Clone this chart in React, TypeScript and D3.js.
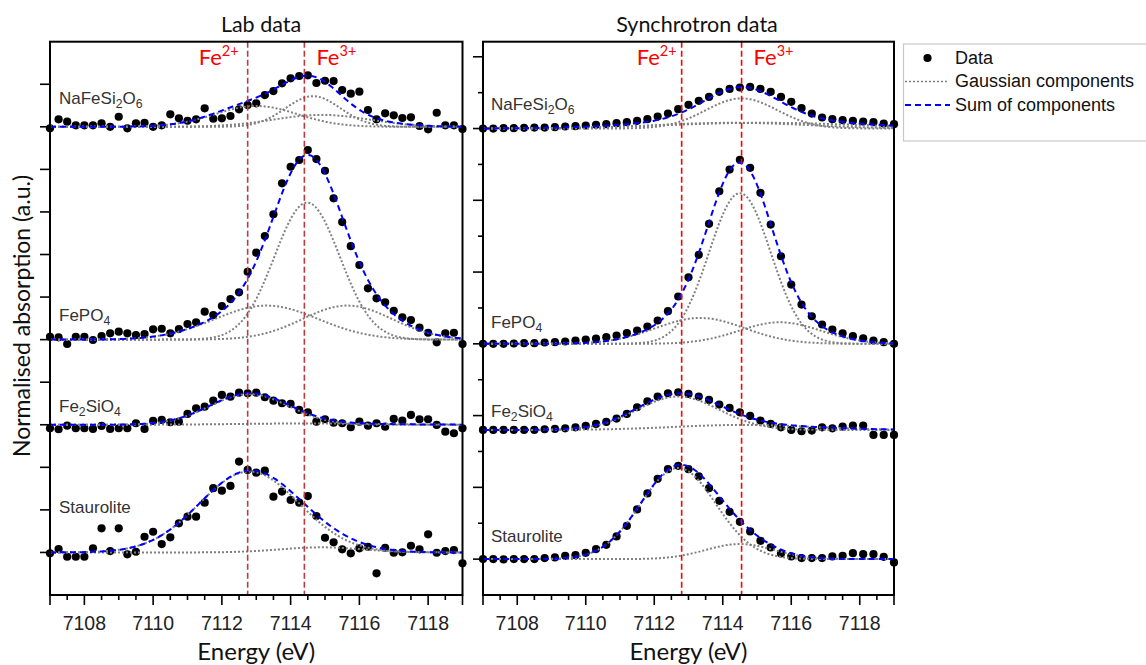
import React from "react";
import * as d3 from "d3";

// ---------------- data ----------------
const labEnergy = [
  7107, 7107.25, 7107.5, 7107.75, 7108, 7108.25, 7108.5, 7108.75, 7109, 7109.25,
  7109.5, 7109.75, 7110, 7110.25, 7110.5, 7110.75, 7111, 7111.25, 7111.5, 7111.75,
  7112, 7112.25, 7112.5, 7112.75, 7113, 7113.25, 7113.5, 7113.75, 7114, 7114.25,
  7114.5, 7114.75, 7115, 7115.25, 7115.5, 7115.75, 7116, 7116.25, 7116.5, 7116.75,
  7117, 7117.25, 7117.5, 7117.75, 7118, 7118.25, 7118.5, 7118.75, 7119,
];
const syncEnergy = [
  7107, 7107.3, 7107.6, 7107.9, 7108.2, 7108.5, 7108.8, 7109.1, 7109.4, 7109.7,
  7110, 7110.3, 7110.6, 7110.9, 7111.2, 7111.5, 7111.8, 7112.1, 7112.4, 7112.7,
  7113, 7113.3, 7113.6, 7113.9, 7114.2, 7114.5, 7114.8, 7115.1, 7115.4, 7115.7,
  7116, 7116.3, 7116.6, 7116.9, 7117.2, 7117.5, 7117.8, 7118.1, 7118.4, 7118.7, 7119,
];
const sampleNames = ["NaFeSi2O6", "FePO4", "Fe2SiO4", "Staurolite"];

// Lab data (normalised absorption, relative to each spectrum's baseline)
const labNaFeSi2O6 = [
  -0.035, 0.176, 0.12, 0.035, 0.035, 0.035, 0.082, 0.0, 0.237, -0.035,
  0.082, 0.096, 0.0, 0.035, 0.294, 0.2, 0.143, 0.176, 0.435, 0.19,
  0.2, 0.254, 0.41, 0.512, 0.552, 0.747, 0.841, 1.022, 1.14, 1.194,
  1.21, 1.03, 1.083, 1.076, 0.865, 0.778, 0.825, 0.395, 0.176, 0.317,
  0.27, 0.207, 0.223, 0.019, -0.059, 0.331, 0.035, 0.035, -0.052,
];
const labFePO4 = [
  0.068, 0.054, -0.103, 0.068, 0.068, -0.009, 0.085, 0.148, 0.186, 0.148,
  0.108, 0.132, 0.242, 0.256, 0.148, 0.249, 0.367, 0.406, 0.656, 0.578,
  0.789, 0.954, 1.111, 1.595, 2.042, 2.434, 2.946, 3.672, 4.062, 4.22,
  4.455, 4.243, 3.968, 3.32, 2.763, 2.195, 1.753, 1.205, 0.97, 0.876,
  0.679, 0.524, 0.46, 0.28, 0.162, -0.063, 0.148, 0.162, -0.103,
];
const labFe2SiO4 = [
  -0.082, -0.106, -0.021, -0.082, -0.082, -0.099, -0.028, -0.099, -0.082, -0.082,
  0.035, -0.099, 0.089, 0.113, 0.059, 0.073, 0.254, 0.387, 0.425, 0.566,
  0.7, 0.66, 0.754, 0.74, 0.754, 0.646, 0.566, 0.505, 0.489, 0.348,
  0.294, 0.073, 0.129, 0.049, 0.035, -0.059, 0.073, -0.021, 0.035, -0.045,
  0.136, 0.096, 0.23, 0.129, 0.129, -0.005, -0.162, -0.2, -0.082,
];
const labStaurolite = [
  -0.021, 0.08, -0.101, -0.101, -0.101, 0.096, 0.566, 0.033, 0.566, -0.045,
  0.016, 0.369, 0.486, 0.197, 0.355, 0.684, 0.841, 0.841, 1.17, 1.509,
  1.452, 1.563, 2.134, 1.939, 1.875, 1.922, 1.311, 1.429, 1.232, 1.17,
  1.325, 0.855, 0.345, 0.237, 0.073, -0.021, 0.096, 0.134, -0.491, 0.11,
  -0.007, 0.002, 0.157, 0.073, 0.425, -0.007, 0.033, 0.056, -0.256,
];

// Synchrotron data
const syncNaFeSi2O6 = [
  0, 0, 0.009, 0.009, 0.019, 0.028, 0.028, 0.037, 0.056, 0.065,
  0.084, 0.102, 0.121, 0.149, 0.176, 0.214, 0.26, 0.334, 0.418, 0.539,
  0.66, 0.771, 0.882, 1.022, 1.105, 1.143, 1.161, 1.105, 1.022, 0.882,
  0.743, 0.567, 0.418, 0.307, 0.26, 0.232, 0.214, 0.195, 0.176, 0.139, 0.121,
];
const syncFePO4 = [
  0, 0, 0, 0.009, 0.019, 0.019, 0.037, 0.046, 0.065, 0.093,
  0.121, 0.149, 0.186, 0.232, 0.297, 0.372, 0.483, 0.65, 0.91, 1.319,
  1.856, 2.48, 3.344, 4.252, 4.857, 5.127, 4.904, 4.207, 3.324, 2.441,
  1.652, 1.095, 0.769, 0.538, 0.398, 0.295, 0.212, 0.156, 0.092, 0.045, 0,
];
const syncFe2SiO4 = [
  0, 0, 0, 0, 0, 0, 0.019, 0.028, 0.046, 0.074,
  0.111, 0.167, 0.223, 0.316, 0.446, 0.632, 0.799, 0.929, 1.022, 1.049,
  1.003, 0.929, 0.836, 0.706, 0.613, 0.492, 0.39, 0.26, 0.167, 0.074,
  0, -0.037, -0.019, 0.074, 0.046, 0.093, 0.121, 0.121, -0.139, -0.139, -0.139,
];
const syncStaurolite = [
  0, 0, -0.009, 0, 0, 0, 0.028, 0.046, 0.093, 0.111,
  0.176, 0.279, 0.399, 0.632, 0.929, 1.384, 1.83, 2.239, 2.508, 2.601,
  2.508, 2.304, 1.978, 1.625, 1.319, 1.04, 0.771, 0.511, 0.325, 0.158,
  0.074, 0.028, 0.028, 0.028, 0.074, 0.093, 0.167, 0.139, 0.139, 0.065, -0.093,
];

// vertical offsets (baselines) of the stacked spectra
const labBaselines = [11, 6, 4, 1];
const syncBaselines = [13, 7, 4.6, 1];

// Gaussian components: [centre (eV), height, width sigma (eV)]
const labFitNaFeSi2O6 = [[7113.0, 0.49, 1.2], [7114.65, 0.72, 0.8], [7114.9, 0.28, 1.4]];
const labFitFePO4 = [[7114.48, 3.22, 0.95], [7113.3, 0.8, 1.5], [7115.65, 0.8, 1.3]];
const labFitFe2SiO4 = [[7112.8, 0.72, 1.15], [7114.5, 0.03, 2.0]];
const labFitStaurolite = [[7112.8, 1.9, 1.45], [7114.9, 0.12, 1.2]];
const syncFitNaFeSi2O6 = [[7114.55, 0.84, 1.05], [7114.3, 0.16, 2.2], [7115.2, 0.16, 2.8]];
const syncFitFePO4 = [[7114.5, 4.2, 0.9], [7113.34, 0.72, 1.3], [7115.67, 0.6, 1.2]];
const syncFitFe2SiO4 = [[7112.7, 0.93, 1.2], [7114.6, 0.14, 2.0]];
const syncFitStaurolite = [[7112.7, 2.54, 1.1], [7114.5, 0.42, 1.0]];

const xTickLabels = [7108, 7110, 7112, 7114, 7116, 7118];
const labFeLines = [7112.75, 7114.4];
const syncFeLines = [7112.8, 7114.55];

// ---------------- drawing ----------------
const W = 1146;
const H = 665;
const CAL = "Lato, 'Open Sans', sans-serif";
const ARIAL = "'Liberation Sans', Arial, sans-serif";

function gauss(e: number, p: number[]) {
  const d = e - p[0];
  return p[1] * Math.exp(-(d * d) / (2 * p[2] * p[2]));
}

function Formula({ name, x, y, size }: { name: string; x: number; y: number; size: number }) {
  const parts = name.split(/(\d+)/).filter((s) => s.length > 0);
  let shifted = false;
  return (
    <text x={x} y={y} fontFamily={ARIAL} fontSize={size} fill="#333">
      {parts.map((p, i) => {
        const isNum = /^\d+$/.test(p);
        const dy = isNum ? 4 : shifted ? -4 : 0;
        shifted = isNum;
        return (
          <tspan key={i} dy={dy} fontSize={isNum ? size * 0.72 : size}>
            {p}
          </tspan>
        );
      })}
    </text>
  );
}

type PanelProps = {
  title: string;
  titleX: number;
  x0: number;
  x1: number;
  yMax: number;
  energy: number[];
  series: number[][];
  baselines: number[];
  fits: number[][][];
  feLines: number[];
  redColor: string;
  labelX: number;
  labelY: number[];
  minorY: boolean;
  fe2Gap: number;
};

const TOP = 41.7;
const BOTTOM = 595;

function Panel(props: PanelProps) {
  const { title, titleX, x0, x1, yMax, energy, series, baselines, fits, feLines, redColor, labelX, labelY, minorY, fe2Gap } = props;
  const x = d3.scaleLinear().domain([7107, 7119]).range([x0, x1]);
  const y = d3.scaleLinear().domain([0, yMax]).range([BOTTOM, TOP]);
  const fine = d3.range(7107, 7119.0001, 0.04);
  const line = d3
    .line<[number, number]>()
    .x((d) => x(d[0]))
    .y((d) => y(d[1]));

  const yTicks = d3.range(1, Math.floor(yMax) + 1).filter((v) => v < yMax - 0.05);
  const xTicks = d3.range(7107, 7119.001, 0.5);

  return (
    <g>
      {/* title */}
      <text x={titleX} y={32} textAnchor="middle" fontFamily={CAL} fontSize={21.5} fill="#111">
        {title}
      </text>

      {/* y ticks */}
      {yTicks.map((v) => {
        const major = !minorY || v % 2 === 1;
        const len = major ? 10 : 5;
        return <line key={"yt" + v} x1={x0 - len} x2={x0} y1={y(v)} y2={y(v)} stroke="#000" strokeWidth={1.6} />;
      })}

      {/* x ticks */}
      {xTicks.map((v) => {
        const major = Math.abs(v % 2) < 1e-6 || v === 7107 || v === 7119;
        const len = major ? 10 : 5;
        return <line key={"xt" + v} x1={x(v)} x2={x(v)} y1={BOTTOM} y2={BOTTOM + len} stroke="#000" strokeWidth={1.6} />;
      })}
      {xTickLabels.map((v) => (
        <text key={"xl" + v} x={x(v)} y={630} textAnchor="middle" fontFamily={ARIAL} fontSize={19.5} fill="#222">
          {v}
        </text>
      ))}
      <text x={(x0 + x1) / 2} y={660} textAnchor="middle" fontFamily={CAL} fontSize={24} fill="#111">
        Energy (eV)
      </text>

      {/* data points */}
      {series.map((s, k) =>
        s.map((v, i) => <circle key={"p" + k + "-" + i} cx={x(energy[i])} cy={y(v + baselines[k])} r={4.1} fill="#000" />)
      )}

      {/* Gaussian components */}
      {fits.map((f, k) =>
        f.map((p, j) => (
          <path
            key={"g" + k + "-" + j}
            d={line(fine.map((e) => [e, baselines[k] + gauss(e, p)] as [number, number])) || ""}
            fill="none"
            stroke="#808080"
            strokeWidth={2}
            strokeDasharray="2,2"
          />
        ))
      )}

      {/* sum of components */}
      {fits.map((f, k) => (
        <path
          key={"s" + k}
          d={line(fine.map((e) => [e, baselines[k] + d3.sum(f, (p) => gauss(e, p))] as [number, number])) || ""}
          fill="none"
          stroke="#0000ff"
          strokeWidth={2}
          strokeDasharray="6,4"
        />
      ))}

      {/* sample labels */}
      {sampleNames.map((n, k) => (
        <Formula key={"l" + k} name={n} x={labelX} y={labelY[k]} size={17} />
      ))}

      {/* Fe lines */}
      {feLines.map((v, k) => (
        <line key={"fe" + k} x1={x(v)} x2={x(v)} y1={TOP} y2={BOTTOM} stroke={redColor} strokeWidth={1.6} strokeDasharray="6,3" />
      ))}
      <text x={x(feLines[0]) - fe2Gap} y={65} textAnchor="end" fontFamily={CAL} fontSize={22} fill="#ff0000">
        Fe<tspan dy={-9} fontSize={14.5}>2+</tspan>
      </text>
      <text x={x(feLines[1]) + 12} y={65} textAnchor="start" fontFamily={CAL} fontSize={22} fill="#ff0000">
        Fe<tspan dy={-9} fontSize={14.5}>3+</tspan>
      </text>

      {/* frame */}
      <rect x={x0} y={TOP} width={x1 - x0} height={BOTTOM - TOP} fill="none" stroke="#000" strokeWidth={2} />
    </g>
  );
}

export default function App() {
  return (
    <svg
      width={W}
      height={H}
      viewBox={`0 0 ${W} ${H}`}
      style={{ position: "absolute", left: 0, top: 0, background: "#fff" }}
    >
      <rect x={0} y={0} width={W} height={H} fill="#fff" />
      <Panel
        title="Lab data"
        titleX={261}
        x0={50}
        x1={462.5}
        yMax={13}
        energy={labEnergy}
        series={[labNaFeSi2O6, labFePO4, labFe2SiO4, labStaurolite]}
        baselines={labBaselines}
        fits={[labFitNaFeSi2O6, labFitFePO4, labFitFe2SiO4, labFitStaurolite]}
        feLines={labFeLines}
        redColor="#c0393b"
        labelX={59}
        labelY={[104, 321, 412, 513]}
        minorY={false}
        fe2Gap={9}
      />
      <Panel
        title="Synchrotron data"
        titleX={697}
        x0={483}
        x1={894}
        yMax={15.42}
        energy={syncEnergy}
        series={[syncNaFeSi2O6, syncFePO4, syncFe2SiO4, syncStaurolite]}
        baselines={syncBaselines}
        fits={[syncFitNaFeSi2O6, syncFitFePO4, syncFitFe2SiO4, syncFitStaurolite]}
        feLines={syncFeLines}
        redColor="#ff0000"
        labelX={491}
        labelY={[110, 327.5, 417, 541.5]}
        minorY={true}
        fe2Gap={5}
      />

      {/* y axis title */}
      <text
        transform="translate(30,316) rotate(-90)"
        textAnchor="middle"
        fontFamily={CAL}
        fontSize={23}
        fill="#111"
      >
        Normalised absorption (a.u.)
      </text>

      {/* legend */}
      <g>
        <rect x={903.5} y={44} width={260} height={97} fill="#fff" stroke="#c8c8c8" strokeWidth={1.2} />
        <circle cx={927.5} cy={58} r={4.1} fill="#000" />
        <text x={955} y={64} fontFamily={ARIAL} fontSize={18} fill="#111">Data</text>
        <line x1={905} x2={948} y1={81.5} y2={81.5} stroke="#808080" strokeWidth={1.6} strokeDasharray="2,2" />
        <text x={955} y={87} fontFamily={ARIAL} fontSize={18} fill="#111">Gaussian components</text>
        <line x1={905} x2={950} y1={105} y2={105} stroke="#0000ff" strokeWidth={2} strokeDasharray="6,4" />
        <text x={955} y={110.5} fontFamily={ARIAL} fontSize={18} fill="#111">Sum of components</text>
      </g>
    </svg>
  );
}
